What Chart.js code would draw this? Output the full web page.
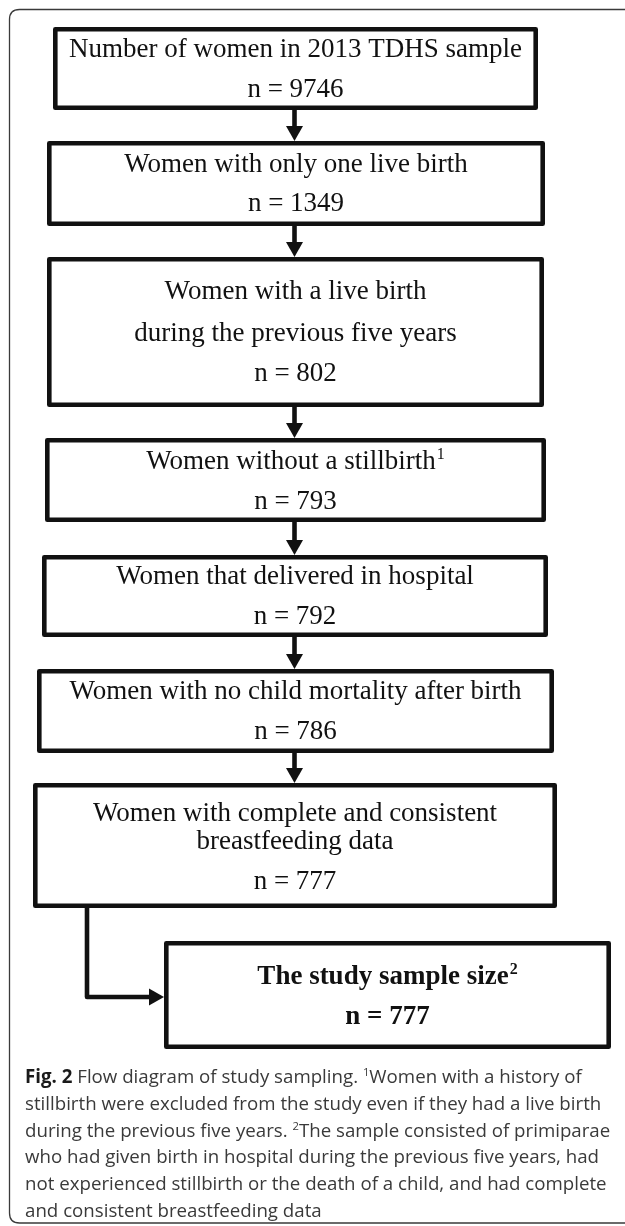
<!DOCTYPE html>
<html>
<head>
<meta charset="utf-8">
<script src="https://cdn.jsdelivr.net/npm/chart.js@4.4.0/dist/chart.umd.min.js"></script>
<style>
html,body{margin:0;padding:0;background:#fff;}
#wrap{position:relative;width:625px;height:1226px;overflow:hidden;}
</style>
</head>
<body>
<div id="wrap"><canvas id="c" width="625" height="1226"></canvas></div>
<script>
// ---- data ----
const steps = [
  ["Number of women in 2013 TDHS sample"],
  ["Women with only one live birth"],
  ["Women with a live birth", "during the previous five years"],
  ["Women without a stillbirth"],
  ["Women that delivered in hospital"],
  ["Women with no child mortality after birth"],
  ["Women with complete and consistent", "breastfeeding data"],
  ["The study sample size"]
];
const counts = [9746, 1349, 802, 793, 792, 786, 777, 777];
const footnoteMarks = ["", "", "", "1", "", "", "", "2"];
const captionLines = [
  [["Fig. 2", "b"], [" Flow diagram of study sampling. ", "n"], ["1", "s"], ["Women with a history of", "n"]],
  [["stillbirth were excluded from the study even if they had a live birth", "n"]],
  [["during the previous five years. ", "n"], ["2", "s"], ["The sample consisted of primiparae", "n"]],
  [["who had given birth in hospital during the previous five years, had", "n"]],
  [["not experienced stillbirth or the death of a child, and had complete", "n"]],
  [["and consistent breastfeeding data", "n"]]
];

// ---- layout (scale units) ----
const boxLayout = [
  {x0: 53, x1: 538, y0: 27, y1: 110, base: [57, 97]},
  {x0: 47, x1: 545, y0: 141, y1: 226, base: [172, 211]},
  {x0: 47, x1: 544, y0: 257, y1: 407, base: [299, 341, 381]},
  {x0: 45, x1: 546, y0: 438, y1: 522, base: [469, 509]},
  {x0: 42, x1: 548, y0: 555, y1: 637, base: [584, 624]},
  {x0: 37, x1: 554, y0: 669, y1: 753, base: [699, 739]},
  {x0: 33, x1: 557, y0: 783, y1: 908, base: [821, 849, 889]},
  {x0: 164, x1: 611, y0: 941, y1: 1049, base: [984, 1024]}
];
const arrowX = 294.5;
const elbow = {x: 87, y: 997};
const captionLayout = {x: 25, base: [1083, 1110, 1137, 1163, 1190, 1217]};
const frame = {x: 9.5, y: 9.5, bottom: 1223, r: 10};

const INK = '#111';
const SERIF = '"Liberation Serif", "Times New Roman", serif';
const SANS = '"Open Sans", "Noto Sans", sans-serif';

const flowPlugin = {
  id: 'flow',
  afterDraw(chart) {
    const ctx = chart.ctx;
    const sx = chart.scales.x, sy = chart.scales.y;
    const X = v => sx.getPixelForValue(v);
    const Y = v => sy.getPixelForValue(v);
    ctx.save();

    // outer frame (open to the right)
    ctx.strokeStyle = '#3a3a3a';
    ctx.lineWidth = 1.3;
    ctx.beginPath();
    ctx.moveTo(X(700), Y(frame.y));
    ctx.lineTo(X(frame.x + frame.r), Y(frame.y));
    ctx.quadraticCurveTo(X(frame.x), Y(frame.y), X(frame.x), Y(frame.y + frame.r));
    ctx.lineTo(X(frame.x), Y(frame.bottom - frame.r));
    ctx.quadraticCurveTo(X(frame.x), Y(frame.bottom), X(frame.x + frame.r), Y(frame.bottom));
    ctx.lineTo(X(700), Y(frame.bottom));
    ctx.stroke();

    const lw = 4.6;
    ctx.strokeStyle = INK;
    ctx.fillStyle = INK;
    ctx.lineWidth = lw;
    ctx.lineJoin = 'round';

    // boxes
    boxLayout.forEach(b => {
      ctx.strokeRect(X(b.x0) + lw / 2, Y(b.y0) + lw / 2, X(b.x1) - X(b.x0) - lw, Y(b.y1) - Y(b.y0) - lw);
    });

    // arrows between consecutive boxes
    const head = 15, hw = 8.5;
    for (let i = 0; i < 6; i++) {
      const yA = Y(boxLayout[i].y1), yB = Y(boxLayout[i + 1].y0);
      const cx = X(arrowX);
      ctx.beginPath();
      ctx.moveTo(cx, yA);
      ctx.lineTo(cx, yB - head + 1);
      ctx.stroke();
      ctx.beginPath();
      ctx.moveTo(cx - hw, yB - head);
      ctx.lineTo(cx + hw, yB - head);
      ctx.lineTo(cx, yB);
      ctx.closePath();
      ctx.fill();
    }
    // elbow connector to final box
    {
      const b7 = boxLayout[6], b8 = boxLayout[7];
      ctx.beginPath();
      ctx.moveTo(X(elbow.x), Y(b7.y1) - 1);
      ctx.lineTo(X(elbow.x), Y(elbow.y));
      ctx.lineTo(X(b8.x0) - head + 1, Y(elbow.y));
      ctx.stroke();
      ctx.beginPath();
      ctx.moveTo(X(b8.x0) - head, Y(elbow.y) - hw);
      ctx.lineTo(X(b8.x0) - head, Y(elbow.y) + hw);
      ctx.lineTo(X(b8.x0), Y(elbow.y));
      ctx.closePath();
      ctx.fill();
    }

    // box texts
    ctx.textBaseline = 'alphabetic';
    ctx.textAlign = 'left';
    steps.forEach((lines, i) => {
      const b = boxLayout[i];
      const bold = i === steps.length - 1;
      const cx = (X(b.x0) + X(b.x1)) / 2;
      const all = lines.concat(['n = ' + counts[i]]);
      all.forEach((t, j) => {
        const mainFont = (bold ? 'bold ' : '') + '27px ' + SERIF;
        const supFont = (bold ? 'bold ' : '') + '16px ' + SERIF;
        ctx.font = mainFont;
        const w = ctx.measureText(t).width;
        let sw = 0;
        const mark = (j === lines.length - 1) ? footnoteMarks[i] : '';
        if (mark) { ctx.font = supFont; sw = ctx.measureText(mark).width + 1; }
        const x = cx - (w + sw) / 2;
        const y = Y(b.base[j]);
        ctx.font = mainFont;
        ctx.fillText(t, x, y);
        if (mark) { ctx.font = supFont; ctx.fillText(mark, x + w + 1, y - 10); }
      });
    });

    // caption
    const capSize = 18.7;
    captionLines.forEach((segs, j) => {
      let x = X(captionLayout.x);
      const y = Y(captionLayout.base[j]);
      segs.forEach(([t, s]) => {
        if (s === 'b') { ctx.font = 'bold ' + capSize + 'px ' + SANS; ctx.fillStyle = '#1a1a1a'; ctx.fillText(t, x, y); }
        else if (s === 's') { ctx.font = (capSize * 0.6) + 'px ' + SANS; ctx.fillStyle = '#3a3a3a'; ctx.fillText(t, x, y - 7); }
        else { ctx.font = capSize + 'px ' + SANS; ctx.fillStyle = '#3a3a3a'; ctx.fillText(t, x, y); }
        x += ctx.measureText(t).width;
      });
    });

    ctx.restore();
  }
};

new Chart(document.getElementById('c'), {
  type: 'scatter',
  data: {datasets: [{data: [], pointRadius: 0}]},
  options: {
    responsive: false,
    animation: false,
    layout: {padding: 0},
    plugins: {legend: {display: false}, tooltip: {enabled: false}, title: {display: false}},
    scales: {
      x: {type: 'linear', min: 0, max: 625, display: false},
      y: {type: 'linear', min: 0, max: 1226, reverse: true, display: false}
    }
  },
  plugins: [flowPlugin]
});
</script>
</body>
</html>
